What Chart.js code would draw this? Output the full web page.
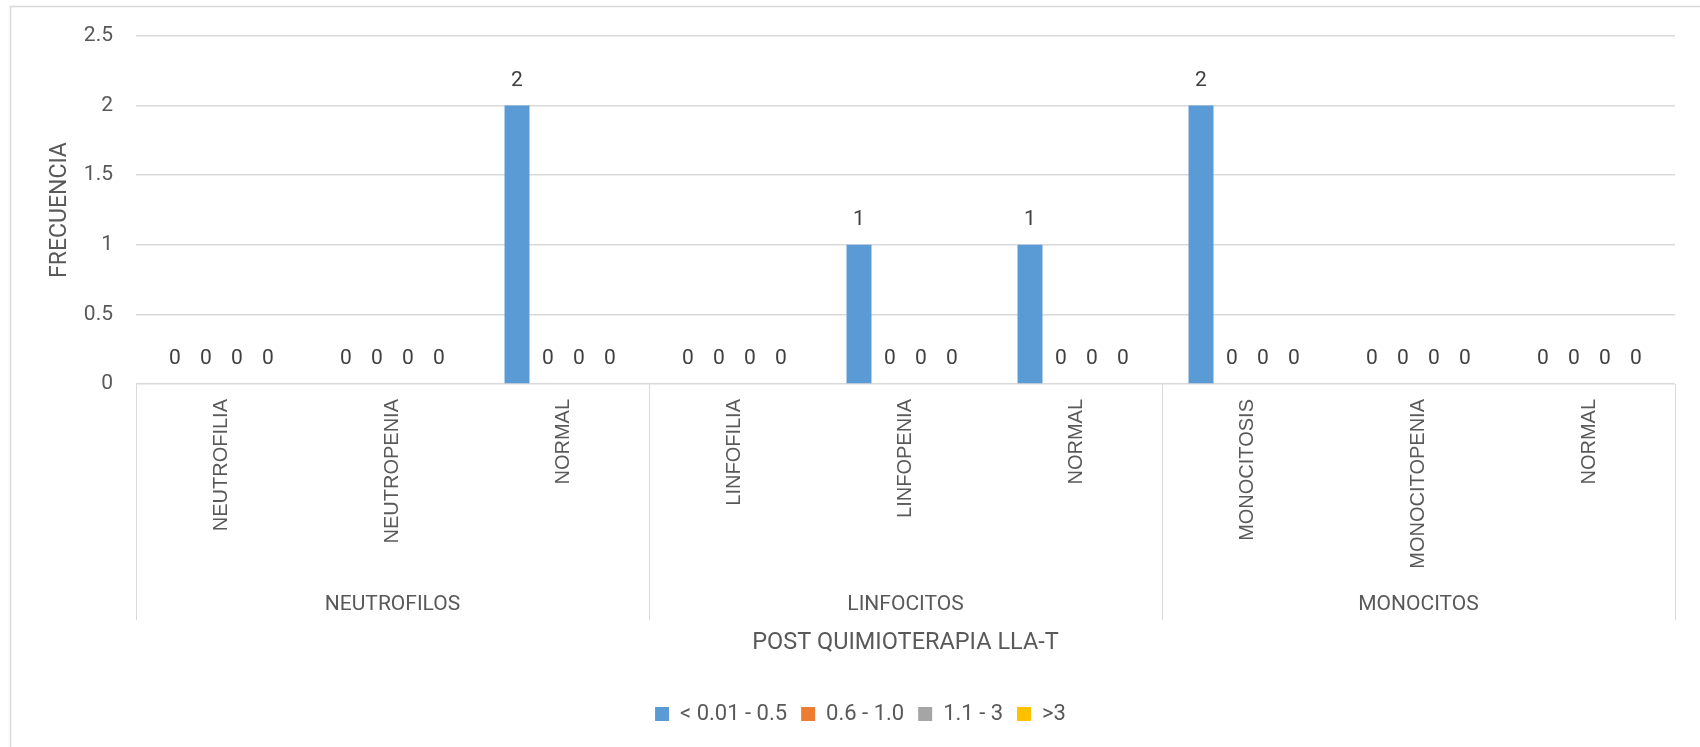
<!DOCTYPE html>
<html>
<head>
<meta charset="utf-8">
<script src="https://cdn.jsdelivr.net/npm/chart.js@4.4.1/dist/chart.umd.min.js"></script>
<style>
  html, body { margin: 0; padding: 0; background: #fff; }
  #wrap { width: 1700px; height: 747px; position: relative; }
</style>
</head>
<body>
<div id="wrap"><canvas id="chart"></canvas></div>
<script>
// Categories and groups (multi-level x axis)
const categories = ['NEUTROFILIA', 'NEUTROPENIA', 'NORMAL',
                    'LINFOFILIA', 'LINFOPENIA', 'NORMAL',
                    'MONOCITOSIS', 'MONOCITOPENIA', 'NORMAL'];
const groups = ['NEUTROFILOS', 'LINFOCITOS', 'MONOCITOS'];
const perGroup = 3;

// Series values
const seriesNames = ['< 0.01 - 0.5', '0.6 - 1.0', '1.1 - 3', '>3'];
const range1 = [0, 0, 2, 0, 1, 1, 2, 0, 0];
const range2 = [0, 0, 0, 0, 0, 0, 0, 0, 0];
const range3 = [0, 0, 0, 0, 0, 0, 0, 0, 0];
const range4 = [0, 0, 0, 0, 0, 0, 0, 0, 0];

// Y tick labels
const yTicks = [0, 0.5, 1, 1.5, 2, 2.5];

const colors = ['#5b9bd5', '#ed7d31', '#a5a5a5', '#ffc000'];
const gridColor = '#d9d9d9';
const textColor = '#595959';
const FONT = 'Roboto';

// Draws value labels above every bar (including zeros)
const valueLabels = {
  id: 'valueLabels',
  afterDatasetsDraw(chart) {
    const ctx = chart.ctx;
    ctx.save();
    ctx.font = '21px ' + FONT;
    ctx.fillStyle = '#404040';
    ctx.textAlign = 'center';
    ctx.textBaseline = 'middle';
    chart.data.datasets.forEach((ds, i) => {
      const meta = chart.getDatasetMeta(i);
      if (meta.hidden) return;
      meta.data.forEach((bar, j) => {
        ctx.fillText(String(ds.data[j]), bar.x, bar.y - 25);
      });
    });
    ctx.restore();
  }
};

// Group separators, group labels, x title and the chart-area border
const groupAxis = {
  id: 'groupAxis',
  beforeDraw(chart) {
    const ctx = chart.ctx;
    ctx.save();
    ctx.strokeStyle = gridColor;
    ctx.lineWidth = 1.5;
    ctx.strokeRect(10.5, 6.5, chart.width + 20, chart.height + 20);
    ctx.restore();
  },
  afterDraw(chart) {
    const ctx = chart.ctx;
    const x = chart.scales.x;
    const bottom = chart.chartArea.bottom;
    const catW = (x.right - x.left) / categories.length;
    ctx.save();
    ctx.strokeStyle = gridColor;
    ctx.lineWidth = 1;
    for (let g = 0; g <= groups.length; g++) {
      const px = Math.round(x.left + g * perGroup * catW) + 0.5;
      ctx.beginPath();
      ctx.moveTo(px, bottom);
      ctx.lineTo(px, bottom + 236);
      ctx.stroke();
    }
    ctx.fillStyle = textColor;
    ctx.textAlign = 'center';
    ctx.textBaseline = 'middle';
    ctx.font = '21px ' + FONT;
    groups.forEach((name, g) => {
      const cx = x.left + (g * perGroup + perGroup / 2) * catW;
      ctx.fillText(name, cx, bottom + 221);
    });
    ctx.font = '23.5px ' + FONT;
    ctx.fillText('POST QUIMIOTERAPIA LLA-T', (x.left + x.right) / 2, bottom + 259);
    ctx.restore();
  }
};

const seriesData = [range1, range2, range3, range4];

new Chart(document.getElementById('chart'), {
  type: 'bar',
  data: {
    labels: categories,
    datasets: seriesNames.map((name, i) => ({
      label: name,
      data: seriesData[i],
      backgroundColor: colors[i],
      borderWidth: 0,
      categoryPercentage: 0.725,
      barPercentage: 0.806
    }))
  },
  options: {
    responsive: true,
    maintainAspectRatio: false,
    animation: false,
    devicePixelRatio: 1,
    layout: {
      padding: { top: 36, right: 25, left: 46, bottom: 12 }
    },
    plugins: {
      legend: {
        position: 'bottom',
        labels: {
          color: textColor,
          font: { family: FONT, size: 22 },
          boxWidth: 14,
          boxHeight: 14,
          padding: 14
        }
      },
      tooltip: { enabled: false }
    },
    scales: {
      x: {
        grid: { display: false, drawTicks: false },
        border: { display: false },
        ticks: {
          color: textColor,
          font: { family: 'Liberation Sans', size: 20 },
          minRotation: 90,
          maxRotation: 90,
          autoSkip: false,
          padding: 15
        },
        afterFit(scale) {
          scale.height = 305;
        }
      },
      y: {
        min: 0,
        max: 2.5,
        grid: { color: gridColor, lineWidth: 1.5, drawTicks: false },
        border: { display: false },
        ticks: {
          color: textColor,
          font: { family: FONT, size: 21 },
          padding: 23,
          callback: (v) => String(v)
        },
        afterBuildTicks(scale) {
          scale.ticks = yTicks.map(v => ({ value: v }));
        },
        afterFit(scale) {
          scale.width = 90;
        },
        title: {
          display: true,
          text: 'FRECUENCIA',
          color: textColor,
          font: { family: FONT, size: 23 },
          padding: { top: 0, bottom: 0 }
        }
      }
    }
  },
  plugins: [valueLabels, groupAxis]
});
</script>
</body>
</html>
